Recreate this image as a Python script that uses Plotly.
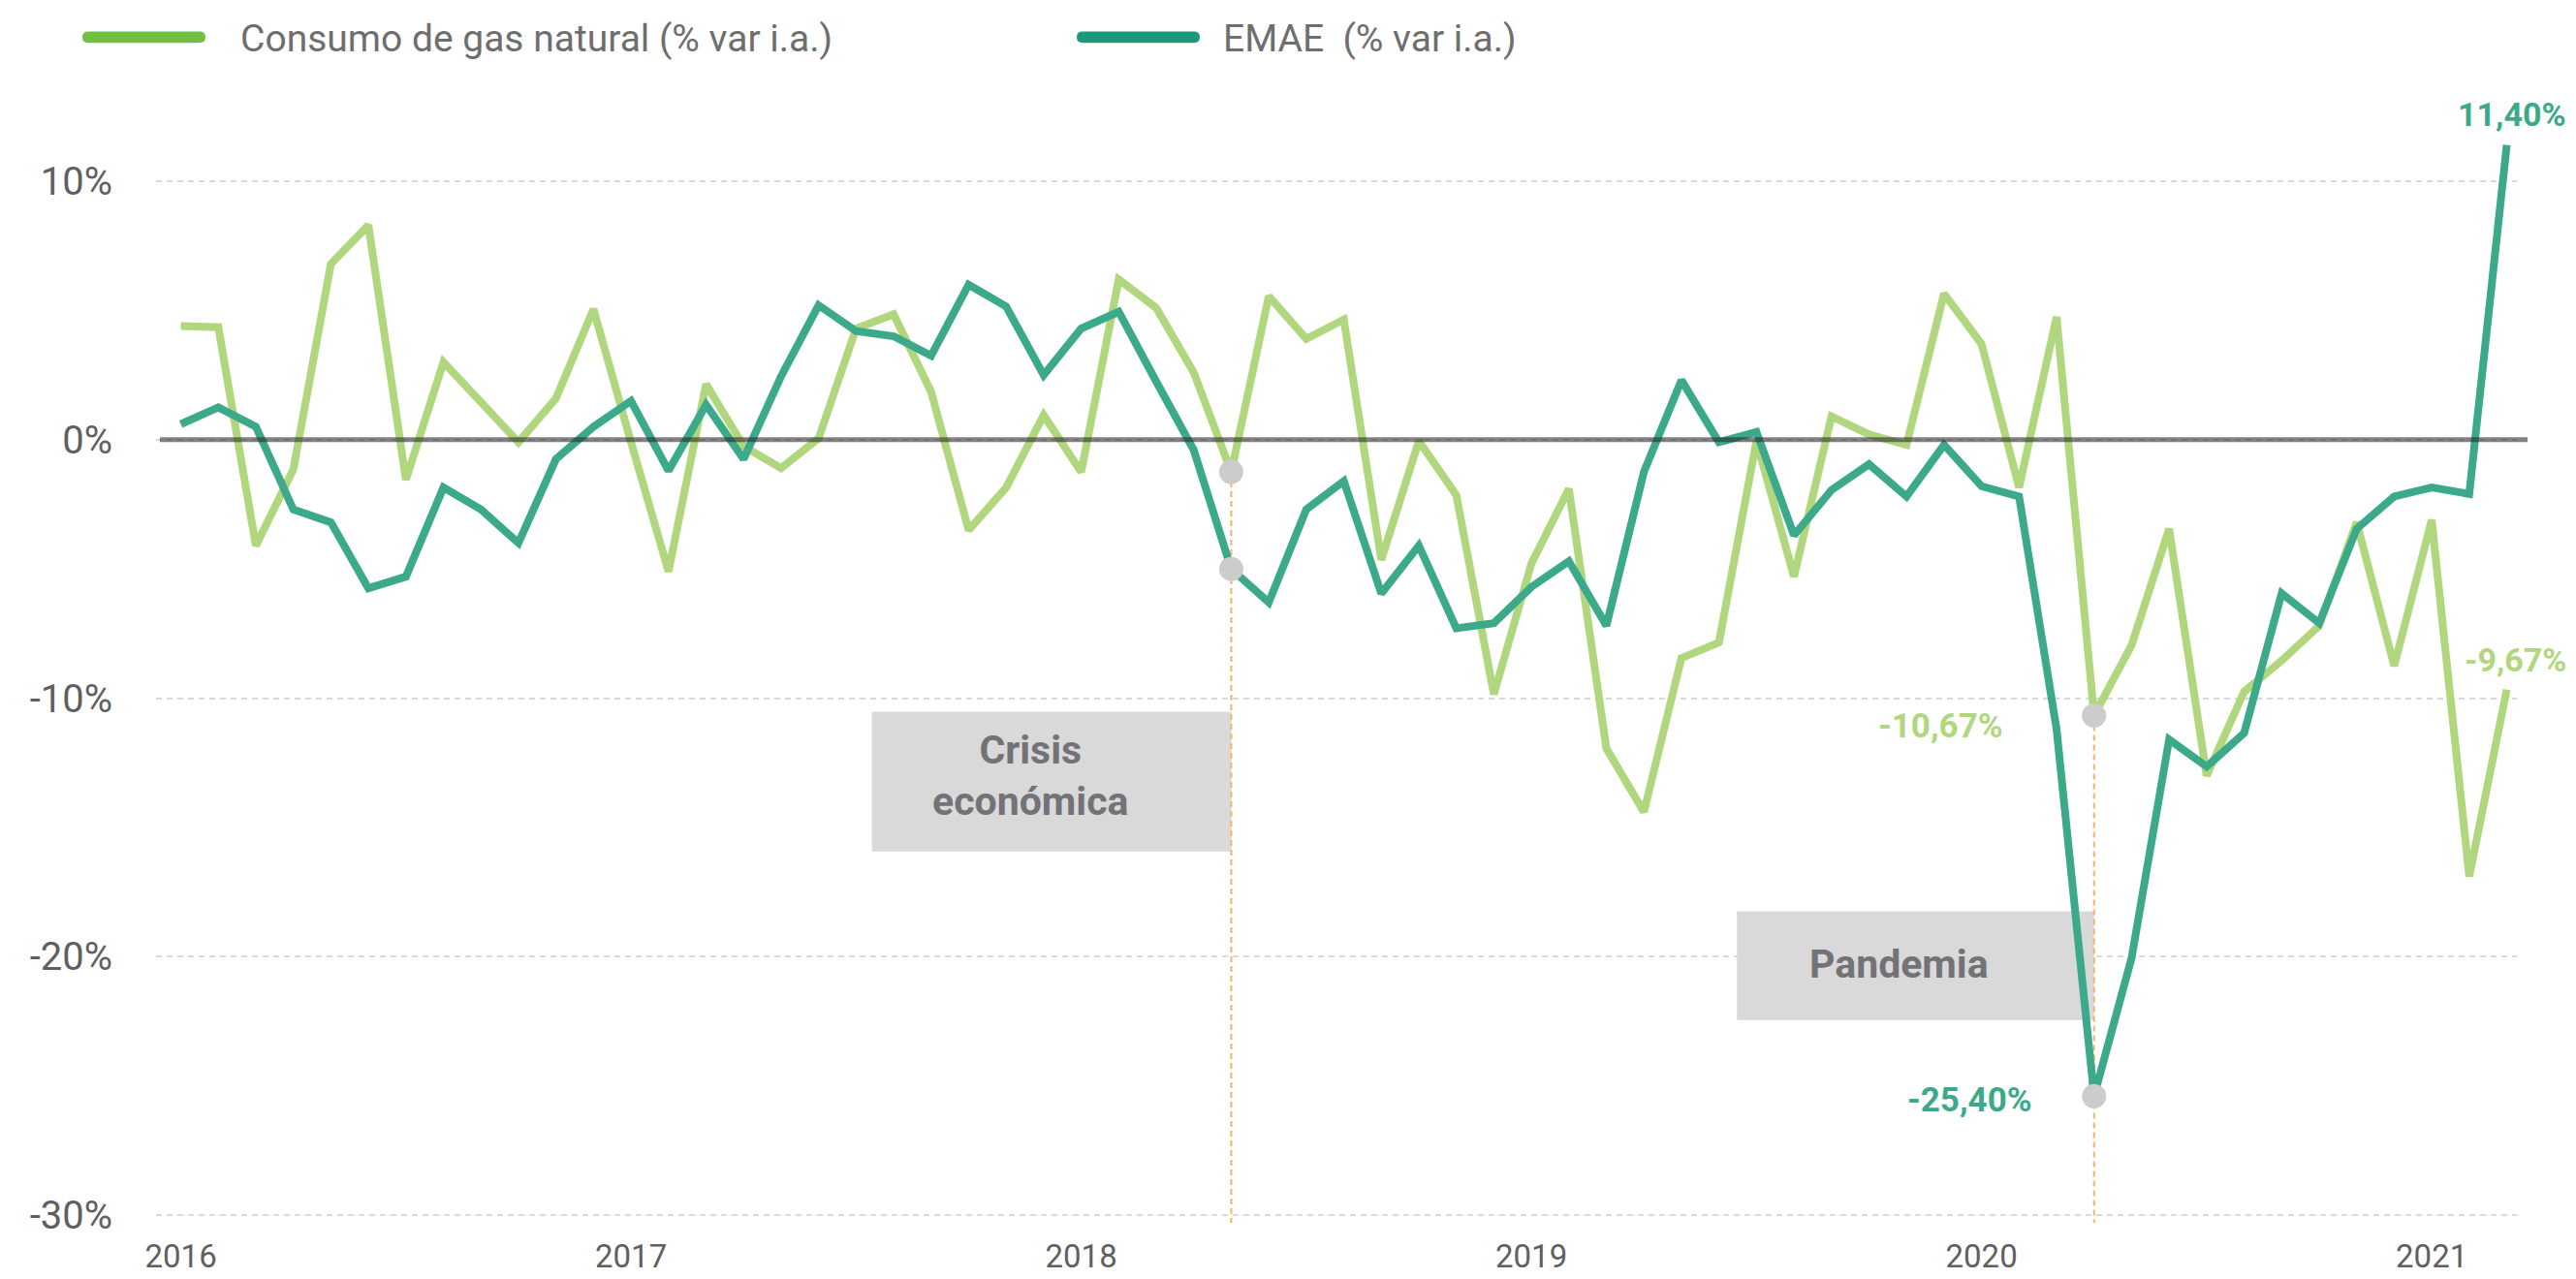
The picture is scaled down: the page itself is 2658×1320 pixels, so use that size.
import plotly.graph_objects as go

# ---------------- data ----------------
months = [f"{y}-{m:02d}" for y in range(2016, 2022) for m in range(1, 13)][:63]

gas = [4.4, 4.35, -4.1, -1.15, 6.8, 8.3, -1.55, 3.0, 1.45, -0.1, 1.6, 5.05,
       -0.1, -5.1, 2.15, -0.25, -1.1, 0.05, 4.3, 4.85, 1.85, -3.5, -1.85, 0.95,
       -1.25, 6.2, 5.1, 2.6, -1.25, 5.55, 3.9, 4.65, -4.65, -0.05, -2.15, -9.85,
       -4.8, -1.9, -11.95, -14.4, -8.45, -7.85, -0.05, -5.3, 0.9, 0.2, -0.2, 5.65,
       3.7, -1.85, 4.75, -10.67, -7.95, -3.45, -13.0, -9.75, -8.55, -7.2, -3.2, -8.75,
       -3.1, -16.9, -9.67]

emae = [0.6, 1.25, 0.5, -2.7, -3.2, -5.75, -5.3, -1.85, -2.7, -4.0, -0.75, 0.5,
        1.5, -1.2, 1.35, -0.75, 2.45, 5.2, 4.2, 4.0, 3.25, 6.0, 5.15, 2.5,
        4.3, 4.95, 2.25, -0.4, -5.0, -6.3, -2.7, -1.6, -5.95, -4.1, -7.3, -7.1,
        -5.7, -4.7, -7.2, -1.25, 2.3, -0.1, 0.3, -3.7, -1.95, -0.95, -2.2, -0.2,
        -1.8, -2.2, -11.2, -25.4, -20.05, -11.6, -12.65, -11.35, -5.95, -7.1, -3.45, -2.2,
        -1.85, -2.1, 11.4]

year_ticks = ["2016-01", "2017-01", "2018-01", "2019-01", "2020-01", "2021-01"]
year_labels = ["2016", "2017", "2018", "2019", "2020", "2021"]
y_ticks = [10, 0, -10, -20, -30]
y_labels = ["10%", "0%", "-10%", "-20%", "-30%"]

series_names = ["Consumo de gas natural (% var i.a.)", "EMAE\u00a0 (% var i.a.)"]
events = ["Crisis<br>económica", "Pandemia"]
event_months = ["2018-05", "2020-04"]

# ---------------- style ----------------
W, H = 2658, 1320
OFF = 8                      # page body margin added by the browser
PL, PR, PT, PB = 161, 2597, 107, 1268   # plot area in page pixels
ML, MT = PL - OFF, PT - OFF
MR, MB = W - PR + OFF, H - PB + OFF
GAS_C = "#b0d77e"
EMAE_C = "#3caa8a"
GAS_LEG = "#72bf44"
EMAE_LEG = "#1b9a7b"
FONT = "Roboto"

PW = PR - PL
PH = PB - PT


def px(x):
    return (x - PL) / PW


def py(y):
    return (PB - y) / PH


fig = go.Figure()

fig.add_trace(go.Scatter(x=months, y=gas, mode="lines", name=series_names[0],
                         line=dict(color=GAS_C, width=8), showlegend=False))
fig.add_trace(go.Scatter(x=months, y=emae, mode="lines", name=series_names[1],
                         line=dict(color=EMAE_C, width=8), showlegend=False))

# highlighted points
idx = [months.index(m) for m in event_months]
dot_x = [months[i] for i in idx] * 2
dot_y = [gas[i] for i in idx] + [emae[i] for i in idx]
fig.add_trace(go.Scatter(x=dot_x, y=dot_y, mode="markers",
                         marker=dict(color="#cccccc", size=25), showlegend=False,
                         cliponaxis=False))

shapes = []
# event boxes
box_ranges = [((18.42, 28.0), (-10.52, -15.93)), ((41.48, 51.0), (-18.25, -22.46))]
for (x0, x1), (y0, y1) in box_ranges:
    shapes.append(dict(type="rect", xref="x", yref="y", x0=x0, x1=x1, y0=y0, y1=y1,
                       fillcolor="#d9d9d9", line=dict(width=0), layer="between"))
# dashed vertical lines from the points down
for i in idx:
    top = gas[i]
    shapes.append(dict(type="line", xref="x", yref="y", x0=i, x1=i, y0=top, y1=-30.3,
                       line=dict(color="#f6b26b", width=2, dash="6px,4px"), layer="between"))
# zero line
shapes.append(dict(type="line", xref="paper", yref="y", x0=px(165), x1=px(2608), y0=0, y1=0,
                   line=dict(color="rgba(40,40,40,0.58)", width=5), layer="above"))


# legend swatches (rounded bars)
def bar_path(x0, x1, yc, r):
    t, b = yc - r, yc + r
    return (f"M {px(x0 + r)} {py(t)} L {px(x1 - r)} {py(t)} "
            f"Q {px(x1)} {py(t)} {px(x1)} {py(yc)} Q {px(x1)} {py(b)} {px(x1 - r)} {py(b)} "
            f"L {px(x0 + r)} {py(b)} Q {px(x0)} {py(b)} {px(x0)} {py(yc)} "
            f"Q {px(x0)} {py(t)} {px(x0 + r)} {py(t)} Z")


shapes.append(dict(type="path", xref="paper", yref="paper", path=bar_path(85, 212, 38, 6),
                   fillcolor=GAS_LEG, line=dict(width=0)))
shapes.append(dict(type="path", xref="paper", yref="paper", path=bar_path(1111, 1238, 38, 6),
                   fillcolor=EMAE_LEG, line=dict(width=0)))

annotations = [
    dict(xref="paper", yref="paper", x=px(246), y=py(40), xanchor="left", yanchor="middle",
         text=series_names[0], showarrow=False, font=dict(family=FONT, size=39, color="#6e6e6e")),
    dict(xref="paper", yref="paper", x=px(1260), y=py(40), xanchor="left", yanchor="middle",
         text=series_names[1], showarrow=False, font=dict(family=FONT, size=39, color="#6e6e6e")),
    # event labels
    dict(xref="x", yref="y", x=22.65, y=-13.0, text="<b>" + events[0] + "</b>", showarrow=False,
         font=dict(family=FONT, size=41, color="#737277"), align="center"),
    dict(xref="x", yref="y", x=45.8, y=-20.3, text="<b>" + events[1] + "</b>", showarrow=False,
         font=dict(family=FONT, size=41, color="#737277")),
    # value labels
    dict(xref="x", yref="y", x=62.15, y=12.6, text="<b>11,40%</b>", showarrow=False,
         font=dict(family=FONT, size=34, color=EMAE_C)),
    dict(xref="x", yref="y", x=62.22, y=-8.5, text="<b>-9,67%</b>", showarrow=False,
         font=dict(family=FONT, size=34, color=GAS_C)),
    dict(xref="x", yref="y", x=48.63, y=-11.08, xanchor="right", text="<b>-10,67%</b>",
         showarrow=False, font=dict(family=FONT, size=35, color=GAS_C)),
    dict(xref="x", yref="y", x=49.4, y=-25.55, xanchor="right", text="<b>-25,40%</b>",
         showarrow=False, font=dict(family=FONT, size=35, color=EMAE_C)),
]

fig.update_layout(
    width=W, height=H,
    margin=dict(l=ML, r=MR, t=MT, b=MB),
    paper_bgcolor="white", plot_bgcolor="white",
    showlegend=False,
    shapes=shapes,
    annotations=annotations,
    font=dict(family=FONT, color="#5f5f5f"),
    xaxis=dict(type="category", categoryorder="array", categoryarray=months,
               range=[-0.661, 62.27], tickmode="array", tickvals=year_ticks, ticktext=year_labels,
               showgrid=False, zeroline=False, showline=False, ticks="",
               tickfont=dict(family=FONT, size=33, color="#5f5f5f"), ticklabelstandoff=12),
    yaxis=dict(range=[-30.3, 13], tickmode="array", tickvals=y_ticks, ticktext=y_labels,
               showgrid=True, gridcolor="#d9d9d9", gridwidth=2, griddash="6px,5px",
               zeroline=False, showline=False, ticks="",
               tickfont=dict(family=FONT, size=40, color="#5f5f5f"), ticklabelstandoff=44),
)

fig.write_html("out.html")
